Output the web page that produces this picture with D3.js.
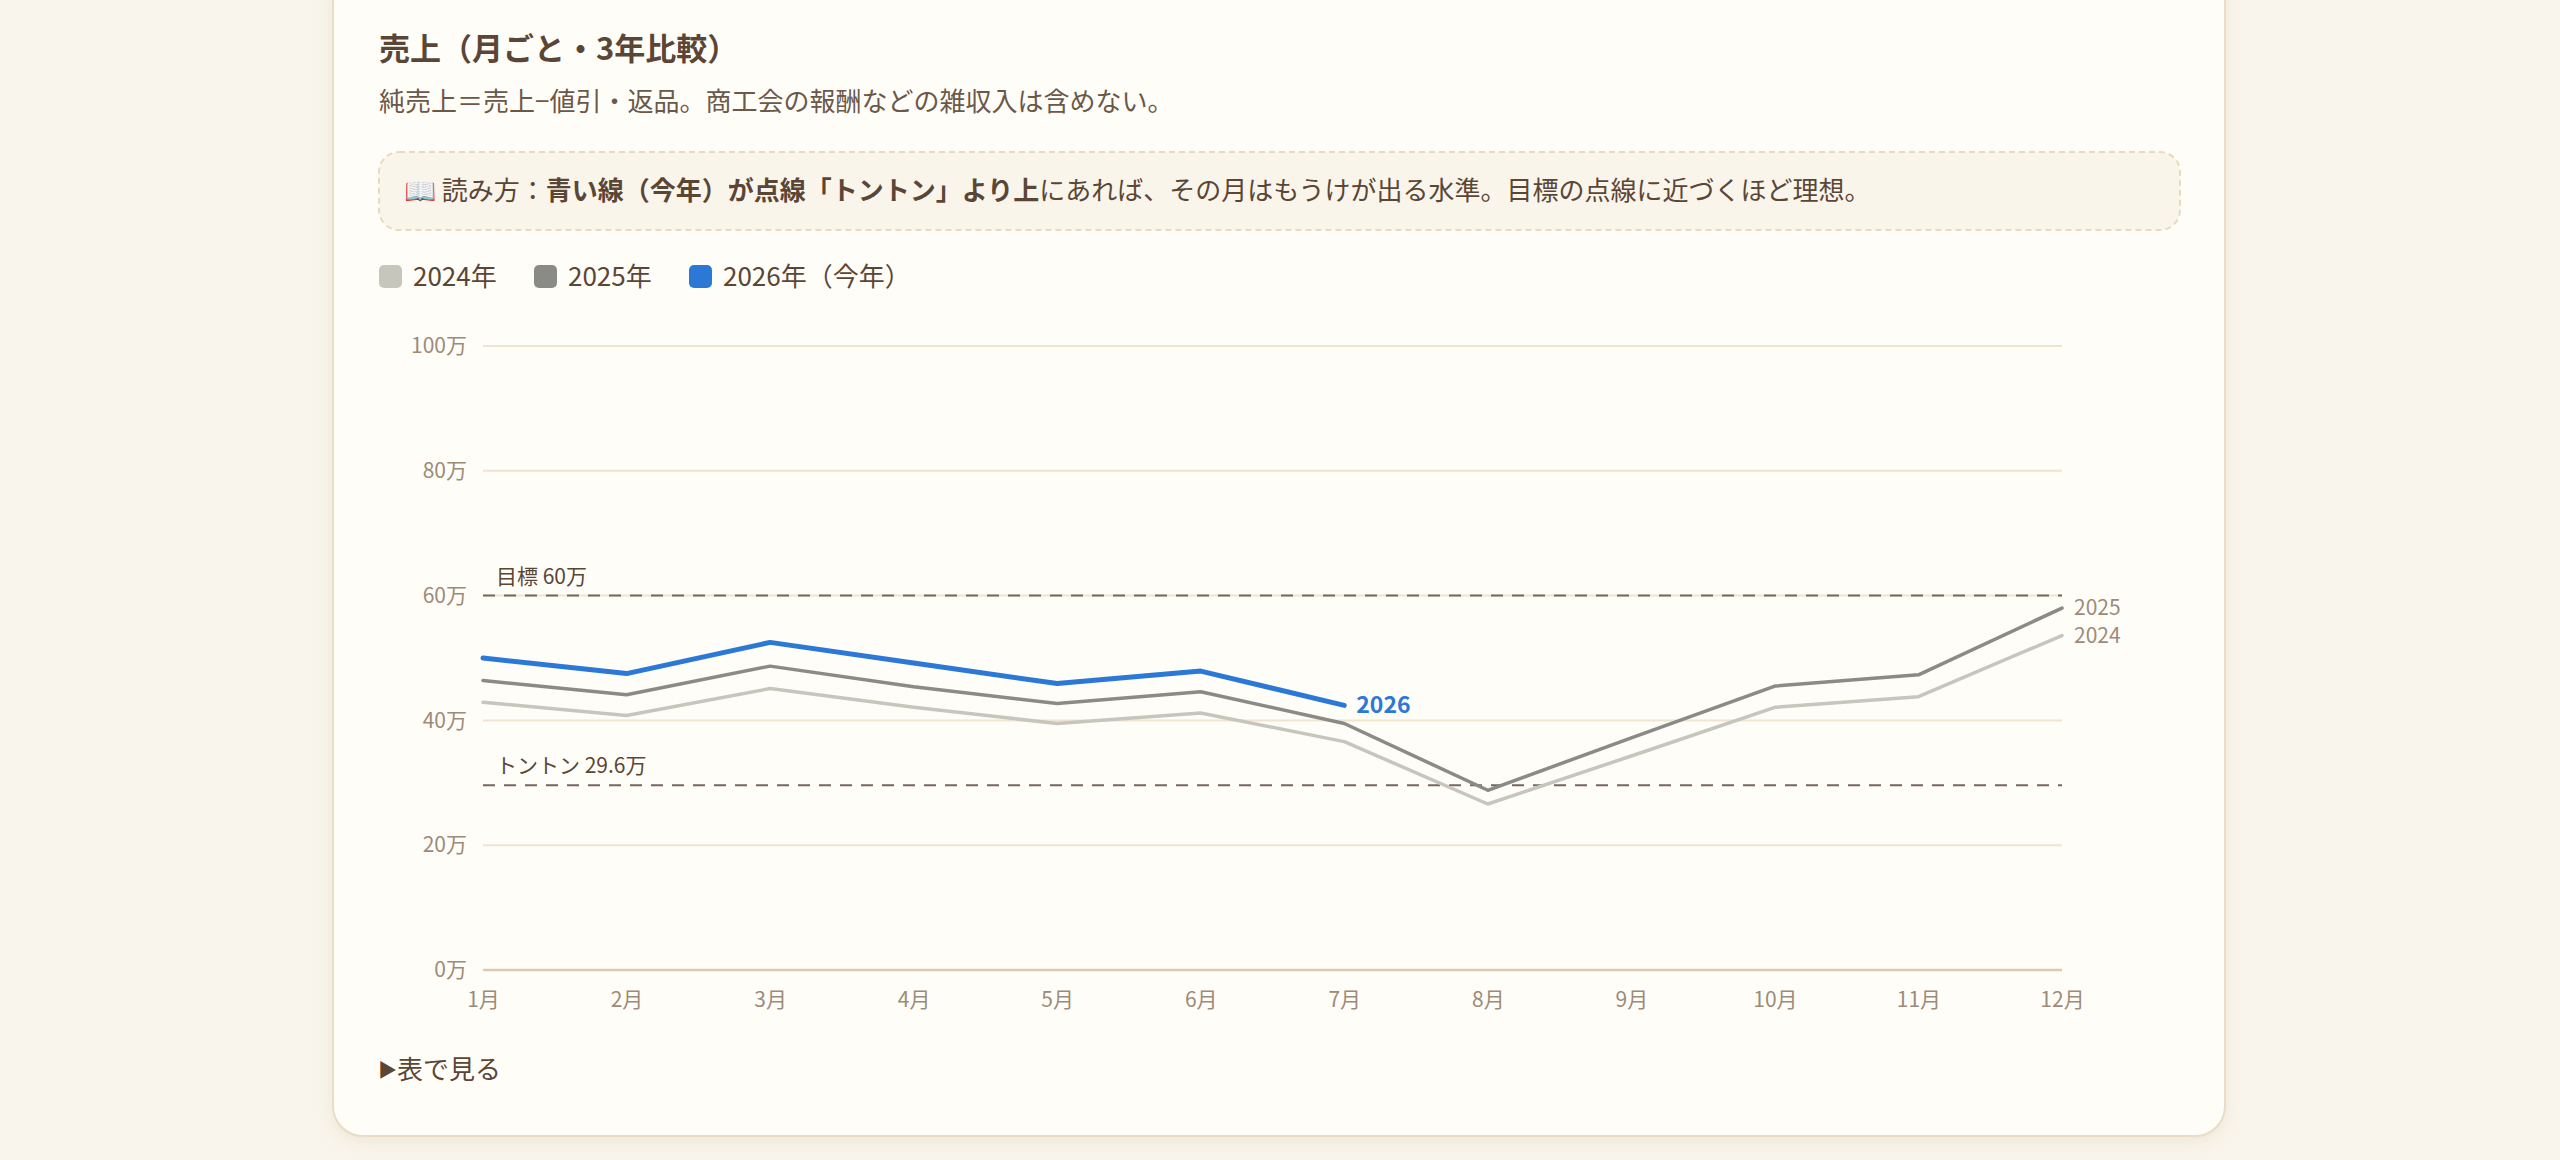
<!DOCTYPE html>
<html lang="ja">
<head>
<meta charset="utf-8">
<script src="https://cdn.jsdelivr.net/npm/d3@7"></script>
<style>
  html, body { margin: 0; padding: 0; background: #f9f5ec; }
  body { width: 2560px; height: 1160px; overflow: hidden; font-family: "Noto Sans CJK JP", "Noto Sans", sans-serif; }
</style>
</head>
<body>
<div id="chart"></div>
<script>
// months and y ticks
const months = ["1月","2月","3月","4月","5月","6月","7月","8月","9月","10月","11月","12月"];
const yTicks = [0, 20, 40, 60, 80, 100];

// net sales per month, in 万円
const sales2024 = [42.9, 40.8, 45.1, 42.1, 39.5, 41.2, 36.6, 26.6, 34.3, 42.1, 43.8, 53.6];
const sales2025 = [46.4, 44.1, 48.7, 45.4, 42.7, 44.6, 39.5, 28.8, 37.2, 45.5, 47.3, 58.0];
const sales2026 = [50.0, 47.5, 52.5, 49.2, 45.9, 47.9, 42.4];

const targetValue = 60;
const breakEvenValue = 29.6;

const seriesNames = ["2024年", "2025年", "2026年（今年）"];
const seriesColors = ["#c6c6bc", "#8a8a86", "#2b78d7"];

const W = 2560, H = 1160;
const textDark = "#5b4636";
const textMuted = "#9c8b78";

const svg = d3.select("#chart").append("svg")
  .attr("width", W).attr("height", H)
  .style("font-family", '"Noto Sans CJK JP", "Noto Sans", sans-serif');

// card shadow
const defs = svg.append("defs");
const f = defs.append("filter").attr("id", "shadow").attr("x", "-5%").attr("y", "-5%").attr("width", "110%").attr("height", "115%");
f.append("feDropShadow").attr("dx", 0).attr("dy", 4).attr("stdDeviation", 8).attr("flood-color", "#d9c7a8").attr("flood-opacity", 0.35);

svg.append("rect")
  .attr("x", 333).attr("y", -40).attr("width", 1892).attr("height", 1176)
  .attr("rx", 30)
  .attr("fill", "#fffdf8").attr("stroke", "#eadcc6").attr("stroke-width", 2)
  .attr("filter", "url(#shadow)");

// title + subtitle
svg.append("text").attr("x", 379).attr("y", 60)
  .attr("font-size", 31).attr("font-weight", 700).attr("fill", textDark)
  .text("売上（月ごと・3年比較）");

svg.append("text").attr("x", 379).attr("y", 111)
  .attr("font-size", 26).attr("fill", "#6b5848")
  .text("純売上＝売上−値引・返品。商工会の報酬などの雑収入は含めない。");

// reading hint box
svg.append("rect")
  .attr("x", 379).attr("y", 152).attr("width", 1801).attr("height", 78)
  .attr("rx", 20)
  .attr("fill", "#faf5eb").attr("stroke", "#ead9bd").attr("stroke-width", 2)
  .attr("stroke-dasharray", "6,4");

const hint = svg.append("text").attr("x", 404).attr("y", 200)
  .attr("font-size", 26).attr("fill", textDark);
hint.append("tspan").text("📖 読み方：");
hint.append("tspan").attr("font-weight", 700).text("青い線（今年）が点線「トントン」より上");
hint.append("tspan").text("にあれば、その月はもうけが出る水準。目標の点線に近づくほど理想。");

// legend
const legend = svg.append("g").attr("transform", "translate(379,265)");
const legendX = [0, 155, 310];
seriesNames.forEach((name, i) => {
  const g = legend.append("g").attr("transform", `translate(${legendX[i]},0)`);
  g.append("rect").attr("width", 23).attr("height", 23).attr("rx", 5).attr("fill", seriesColors[i]);
  g.append("text").attr("x", 34).attr("y", 21).attr("font-size", 26).attr("fill", textDark).text(name);
});

// chart scales
const x = d3.scalePoint().domain(months).range([483, 2062]);
const y = d3.scaleLinear().domain([0, 100]).range([970, 346]);

const plot = svg.append("g");

// gridlines
plot.append("g").selectAll("line")
  .data(yTicks.filter(d => d > 0))
  .join("line")
  .attr("x1", 483).attr("x2", 2062)
  .attr("y1", d => y(d)).attr("y2", d => y(d))
  .attr("stroke", "#efe4d0").attr("stroke-width", 2);

// baseline
plot.append("line")
  .attr("x1", 483).attr("x2", 2062)
  .attr("y1", y(0)).attr("y2", y(0))
  .attr("stroke", "#ddcbb0").attr("stroke-width", 2.5);

// y axis labels
const yAxis = d3.axisLeft(y).tickValues(yTicks).tickSize(0).tickPadding(16).tickFormat(d => d + "万");
plot.append("g").attr("transform", "translate(483,0)").call(yAxis)
  .call(g => g.select(".domain").remove())
  .selectAll("text")
  .attr("font-size", 21).attr("fill", textMuted)
  .attr("font-family", '"Noto Sans CJK JP", sans-serif');

// x axis labels
const xAxis = d3.axisBottom(x).tickSize(0).tickPadding(22);
plot.append("g").attr("transform", `translate(0,${y(0)})`).call(xAxis)
  .call(g => g.select(".domain").remove())
  .selectAll("text")
  .attr("font-size", 21).attr("fill", textMuted)
  .attr("font-family", '"Noto Sans CJK JP", sans-serif');

// reference lines
const refs = [
  { v: targetValue, label: "目標 60万" },
  { v: breakEvenValue, label: "トントン 29.6万" }
];
refs.forEach(r => {
  plot.append("line")
    .attr("x1", 483).attr("x2", 2062)
    .attr("y1", y(r.v)).attr("y2", y(r.v))
    .attr("stroke", "#77665a").attr("stroke-width", 2)
    .attr("stroke-dasharray", "12,9");
  plot.append("text")
    .attr("x", 496).attr("y", y(r.v) - 12)
    .attr("font-size", 21).attr("fill", textDark)
    .text(r.label);
});

// lines
const line = d3.line().x((d, i) => x(months[i])).y(d => y(d));
const allSeries = [sales2024, sales2025, sales2026];
const widths = [3.5, 3.5, 5];
allSeries.forEach((s, i) => {
  plot.append("path")
    .datum(s)
    .attr("d", line)
    .attr("fill", "none")
    .attr("stroke", seriesColors[i])
    .attr("stroke-width", widths[i])
    .attr("stroke-linejoin", "round")
    .attr("stroke-linecap", "round");
});

// end labels
const endLabels = [
  { s: sales2024, text: "2024", color: textMuted, weight: 400, size: 21 },
  { s: sales2025, text: "2025", color: textMuted, weight: 400, size: 21 },
  { s: sales2026, text: "2026", color: seriesColors[2], weight: 700, size: 23 }
];
endLabels.forEach(l => {
  const last = l.s.length - 1;
  plot.append("text")
    .attr("x", x(months[last]) + 12)
    .attr("y", y(l.s[last]))
    .attr("dy", "0.35em")
    .attr("font-size", l.size).attr("font-weight", l.weight)
    .attr("fill", l.color)
    .text(l.text);
});

// "show as table" toggle
const more = svg.append("text").attr("x", 378).attr("y", 1079)
  .attr("font-size", 26).attr("fill", textDark);
more.append("tspan").attr("font-size", 19).attr("dy", -2).text("▶");
more.append("tspan").attr("dy", 2).text("表で見る");
</script>
</body>
</html>
